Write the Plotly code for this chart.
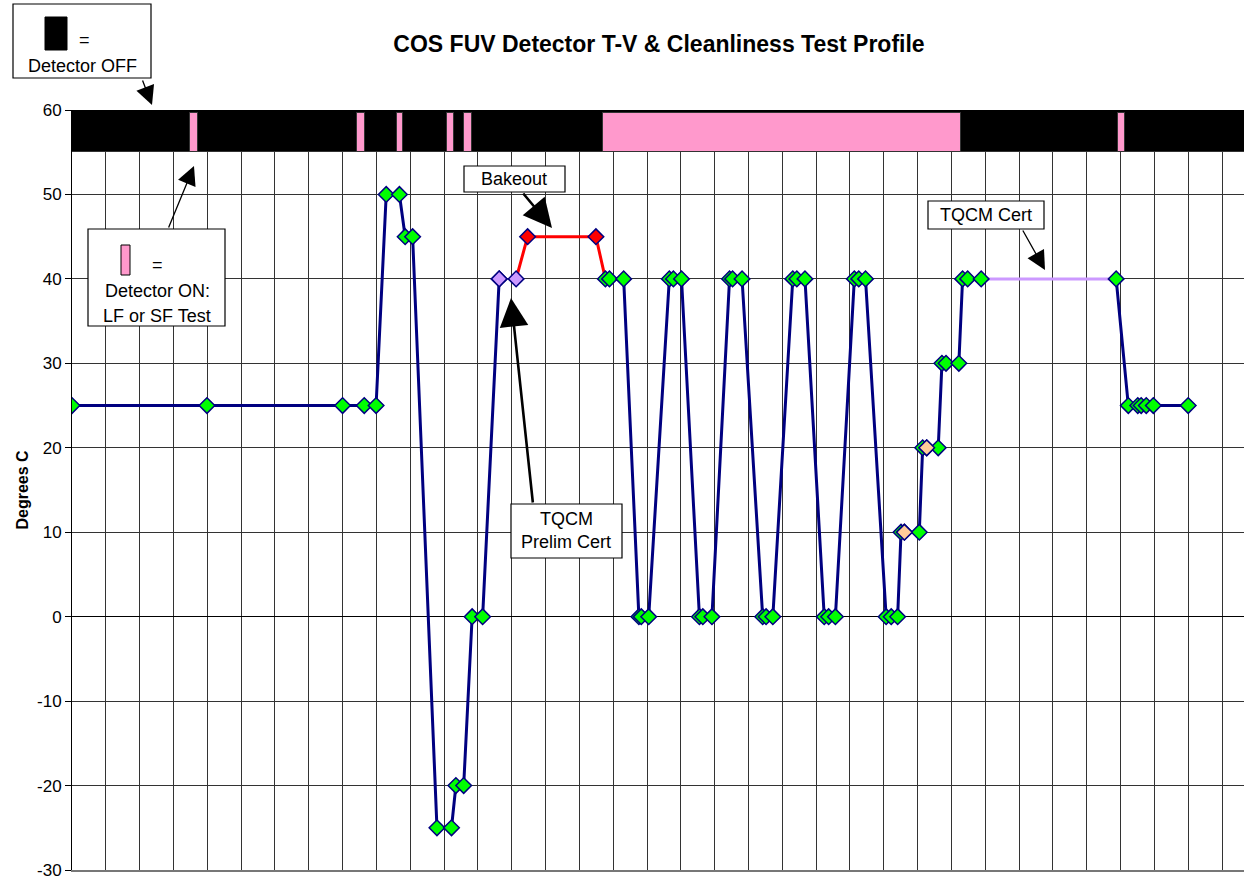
import plotly.graph_objects as go

# ---------------- data (x in grid-interval units, y in degrees C) ----------------
seg1_x = [0.00, 3.99, 8.00, 8.64, 8.99, 9.29, 9.68, 9.85, 10.07, 10.79, 11.22, 11.35, 11.58, 11.83, 12.14, 12.63]
seg1_y = [25, 25, 25, 25, 25, 50, 50, 45, 45, -25, -25, -20, -20, 0, 0, 40]

bake_x = [13.13, 13.47, 15.49, 15.77]
bake_y = [40, 45, 45, 40]
bake_peak_x = [13.47, 15.49]
bake_peak_y = [45, 45]

seg2_x = [15.77, 15.89, 16.31, 16.76, 16.83, 17.05, 17.66, 17.78, 18.02, 18.55, 18.65, 18.92,
          19.44, 19.53, 19.81, 20.42, 20.52, 20.72, 21.31, 21.43, 21.67, 22.24, 22.37, 22.57,
          23.13, 23.26, 23.46, 24.07, 24.22, 24.41, 24.51, 24.61, 25.05, 25.15, 25.27, 25.61,
          25.72, 25.84, 26.22, 26.33, 26.48, 26.88]
seg2_y = [40, 40, 40, 0, 0, 0, 40, 40, 40, 0, 0, 0,
          40, 40, 40, 0, 0, 0, 40, 40, 40, 0, 0, 0,
          40, 40, 40, 0, 0, 0, 10, 10, 10, 20, 20, 20,
          30, 30, 30, 40, 40, 40]

cert_x = [26.88, 30.87]
cert_y = [40, 40]

seg3_x = [30.87, 31.23, 31.51, 31.61, 31.76, 31.97, 33.00]
seg3_y = [40, 25, 25, 25, 25, 25, 25]

prelim_x = [12.63, 13.13]
prelim_y = [40, 40]

peach_x = [24.61, 25.27]
peach_y = [10, 20]

# detector ON intervals (start, end) in x units
on_start = [3.50, 8.44, 9.61, 11.09, 11.60, 15.69, 30.92]
on_end = [3.73, 8.67, 9.80, 11.30, 11.82, 26.27, 31.14]

y_tick_vals = [-30, -20, -10, 0, 10, 20, 30, 40, 50, 60]
y_tick_text = ["-30", "-20", "-10", "0", "10", "20", "30", "40", "50", "60"]

X_RANGE = [0, 34.65]
Y_RANGE = [-30, 60]

# ---------------- styling ----------------
FONT = "Arial, 'Liberation Sans', sans-serif"
NAVY = "#000080"
GREEN = "#00FF00"
LAV = "#CC99FF"
PEACH = "#FFCC99"
PINK = "#FF99CC"

W, H = 1244, 881
L, R, T, B = 72, 0, 110, 11


def px_x(px):
    return (px - L) / (W - L - R)


def px_y(py):
    return (H - B - py) / (H - T - B)


fig = go.Figure()

# detector status bar (OFF background + ON intervals)
fig.add_trace(go.Bar(x=[(X_RANGE[0] + X_RANGE[1] + 1) / 2], y=[5], base=[55],
                     width=[X_RANGE[1] - X_RANGE[0] + 1],
                     marker=dict(color="black", line=dict(color="#333333", width=1)),
                     hoverinfo="skip", showlegend=False))
fig.add_trace(go.Bar(x=[(s + e) / 2 for s, e in zip(on_start, on_end)],
                     y=[4.65] * len(on_start), base=[55.05] * len(on_start),
                     width=[e - s for s, e in zip(on_start, on_end)],
                     marker=dict(color=PINK, line=dict(color="#333333", width=1)),
                     showlegend=False))

# TQCM certification (lavender line)
fig.add_trace(go.Scatter(x=cert_x, y=cert_y, mode="lines",
                         line=dict(color=LAV, width=3), showlegend=False))

# bakeout (red)
fig.add_trace(go.Scatter(x=bake_x, y=bake_y, mode="lines",
                         line=dict(color="#FF0000", width=3), showlegend=False))
fig.add_trace(go.Scatter(x=bake_peak_x, y=bake_peak_y, mode="markers",
                         marker=dict(symbol="diamond", size=12, color="#FF0000",
                                     line=dict(color=NAVY, width=1.5)),
                         showlegend=False))

# main temperature profile
main_x = seg1_x + [None] + seg2_x + [None] + seg3_x
main_y = seg1_y + [None] + seg2_y + [None] + seg3_y
fig.add_trace(go.Scatter(x=main_x, y=main_y, mode="lines+markers", connectgaps=False,
                         line=dict(color=NAVY, width=3),
                         marker=dict(symbol="diamond", size=12, color=GREEN,
                                     line=dict(color=NAVY, width=1.5)),
                         showlegend=False))

# TQCM prelim cert points (lavender) and peach points
fig.add_trace(go.Scatter(x=prelim_x, y=prelim_y, mode="markers",
                         marker=dict(symbol="diamond", size=12, color=LAV,
                                     line=dict(color=NAVY, width=1.5)),
                         showlegend=False))
fig.add_trace(go.Scatter(x=peach_x, y=peach_y, mode="markers",
                         marker=dict(symbol="diamond", size=12, color=PEACH,
                                     line=dict(color=NAVY, width=1.5)),
                         showlegend=False))

# ---------------- callout boxes ----------------
shapes = []
annotations = []
TXT = 18


def box(x0, y0, x1, y1):
    shapes.append(dict(type="rect", xref="paper", yref="paper",
                       x0=px_x(x0), x1=px_x(x1), y0=px_y(y1), y1=px_y(y0),
                       line=dict(color="black", width=1.2), fillcolor="white", layer="above"))


def text(s, x, y, size=TXT):
    annotations.append(dict(text=s, xref="paper", yref="paper", x=px_x(x), y=px_y(y),
                            xanchor="center", yanchor="middle", showarrow=False,
                            font=dict(family=FONT, size=size, color="black")))


def arrow(tx, ty, hx, hy, width=1.5, size=2.2):
    annotations.append(dict(text="", xref="paper", yref="paper", x=px_x(hx), y=px_y(hy),
                            ax=tx - hx, ay=ty - hy, axref="pixel", ayref="pixel",
                            showarrow=True, arrowhead=2, arrowsize=size, arrowwidth=width,
                            arrowcolor="black", standoff=0, startstandoff=0))


# Detector OFF legend box
box(13, 4, 151, 78)
shapes.append(dict(type="rect", xref="paper", yref="paper",
                   x0=px_x(45), x1=px_x(67), y0=px_y(50), y1=px_y(17),
                   line=dict(color="black", width=1), fillcolor="black", layer="above"))
text("=", 84, 40)
text("Detector OFF", 82, 66)
arrow(142, 79, 152, 105, width=1.3, size=2.9)

# Detector ON legend box
box(88, 229, 225, 326)
shapes.append(dict(type="rect", xref="paper", yref="paper",
                   x0=px_x(121), x1=px_x(130), y0=px_y(275), y1=px_y(245),
                   line=dict(color="black", width=1), fillcolor=PINK, layer="above"))
text("=", 157, 265)
text("Detector ON:", 157, 291)
text("LF or SF Test", 157, 316)
arrow(168, 229, 194, 166, width=1.3, size=2.9)

# Bakeout
box(464, 166, 565, 192)
text("Bakeout", 514, 179)
arrow(522, 192, 552, 228, width=2.6, size=2.2)

# TQCM Prelim Cert
box(511, 504, 622, 558)
text("TQCM", 566, 519)
text("Prelim Cert", 566, 542)
arrow(533, 504, 511, 298, width=2.6, size=2.2)

# TQCM Cert
box(928, 201, 1044, 229)
text("TQCM Cert", 986, 215)
arrow(1022, 229, 1045, 270, width=1.3, size=2.9)

fig.update_layout(
    width=W, height=H,
    margin=dict(l=L, r=R, t=T, b=B, autoexpand=False),
    paper_bgcolor="white", plot_bgcolor="white",
    barmode="overlay", bargap=0,
    font=dict(family=FONT, size=17, color="black"),
    title=dict(text="<b>COS FUV Detector T-V & Cleanliness Test Profile</b>",
               x=px_x(659), xref="paper", xanchor="center",
               y=1 - 44 / H, yref="container", yanchor="middle",
               font=dict(family=FONT, size=23, color="black")),
    xaxis=dict(range=X_RANGE, dtick=1, tick0=0, showticklabels=False, ticks="",
               showgrid=True, gridcolor="#333333", gridwidth=1, zeroline=False,
               showline=True, linecolor="#777777", linewidth=2, mirror=False,
               automargin=False),
    yaxis=dict(range=Y_RANGE, tickmode="array", tickvals=y_tick_vals, ticktext=y_tick_text,
               ticks="outside", ticklen=6, ticklabeloverflow="allow",
               tickcolor="black", showgrid=True, gridcolor="#333333", gridwidth=1,
               zeroline=True, zerolinecolor="black", zerolinewidth=1,
               showline=True, linecolor="black", linewidth=1, automargin=False,
               tickfont=dict(family=FONT, size=17, color="black"),
               title=dict(text="<b>Degrees C</b>", standoff=4,
                          font=dict(family=FONT, size=16, color="black"))),
    shapes=shapes,
    annotations=annotations,
)

fig.write_html("out.html", config={"displayModeBar": False},
               post_script="document.body.style.margin='0';")
